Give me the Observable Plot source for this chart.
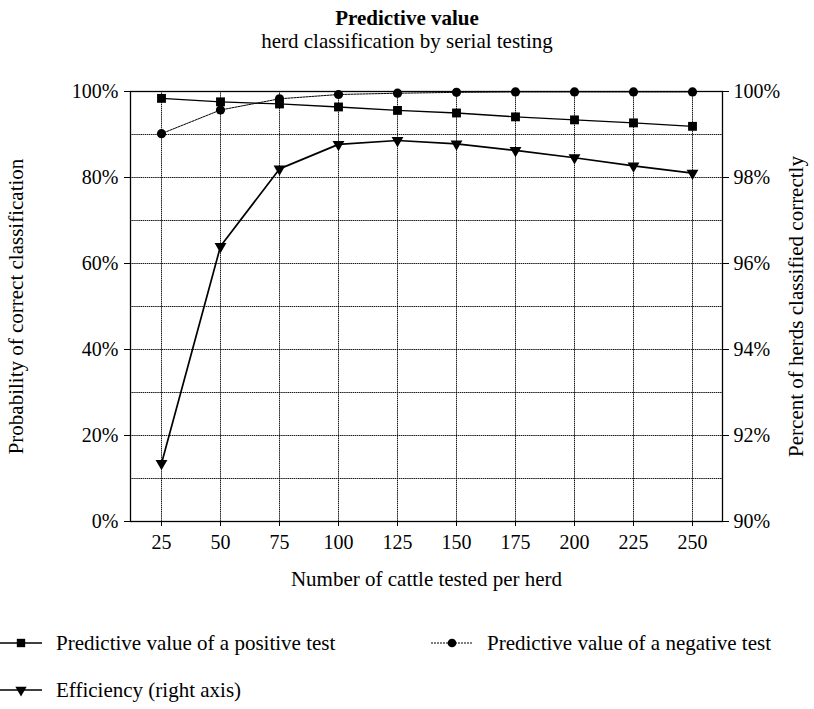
<!DOCTYPE html>
<html>
<head>
<meta charset="utf-8">
<script src="https://cdn.jsdelivr.net/npm/d3@7"></script>
<script src="https://cdn.jsdelivr.net/npm/@observablehq/plot@0.6"></script>
<style>
  html, body { margin: 0; padding: 0; background: #fff; }
  #wrap { position: relative; width: 814px; height: 709px; font-family: "Liberation Serif", "Times New Roman", serif; color: #000; overflow: hidden; }
  #title { position: absolute; left: 0; top: 6px; width: 814px; text-align: center; font-weight: bold; font-size: 21px; line-height: 24px; }
  #subtitle { position: absolute; left: 0; top: 29px; width: 814px; text-align: center; font-size: 21px; line-height: 24px; }
  #chart { position: absolute; left: 0; top: 60px; }
  .leg { position: absolute; font-size: 21px; line-height: 24px; white-space: nowrap; display: flex; align-items: center; }
  .leg svg { margin-right: 14px; }
</style>
</head>
<body>
<div id="wrap">
  <div id="title">Predictive value</div>
  <div id="subtitle">herd classification by serial testing</div>
  <div id="chart"></div>
  <div id="legend"></div>
</div>
<script>
// ---- data ----
const cattleTested = [25, 50, 75, 100, 125, 150, 175, 200, 225, 250];
const positivePV = [98.4, 97.6, 97.1, 96.4, 95.6, 95.0, 94.1, 93.4, 92.7, 91.9];
const negativePV = [90.2, 95.7, 98.3, 99.3, 99.6, 99.8, 99.9, 99.9, 99.9, 99.9];
const efficiency = [91.35, 96.4, 98.2, 98.77, 98.86, 98.78, 98.63, 98.46, 98.27, 98.1]; // right axis (%)
const leftTicks = [0, 20, 40, 60, 80, 100];
const rightTicks = [90, 92, 94, 96, 98, 100];
const gridTicks = [0, 10, 20, 30, 40, 50, 60, 70, 80, 90, 100];
const seriesNames = ["Predictive value of a positive test", "Predictive value of a negative test", "Efficiency (right axis)"];

// right axis 90–100% maps onto left 0–100%
const toLeft = r => (r - 90) * 10;
const fromLeft = l => 90 + l / 10;

const pos = cattleTested.map((x, i) => ({x, y: positivePV[i]}));
const neg = cattleTested.map((x, i) => ({x, y: negativePV[i]}));
const eff = cattleTested.map((x, i) => ({x, y: toLeft(efficiency[i])}));

const gridStyle = {stroke: "#000", strokeOpacity: 0.9, strokeDasharray: "1.5,0.6", strokeWidth: 1};

const chart = Plot.plot({
  width: 814,
  height: 540,
  marginTop: 31,
  marginBottom: 79,
  marginLeft: 130,
  marginRight: 92,
  style: {fontFamily: "'Liberation Serif', 'Times New Roman', serif", fontSize: "20px", color: "#000", background: "#fff"},
  x: {type: "point", domain: cattleTested, padding: 0.5},
  y: {domain: [0, 100]},
  marks: [
    Plot.gridY(gridTicks, gridStyle),
    Plot.gridX(cattleTested, gridStyle),
    Plot.frame({stroke: "#000", strokeWidth: 1.3}),
    Plot.axisY(leftTicks, {anchor: "left", tickFormat: d => d + "%", tickSize: 6, tickPadding: 6, fontSize: 20,
      label: "Probability of correct classification", labelAnchor: "center", labelArrow: "none", labelOffset: 122}),
    Plot.axisY(rightTicks.map(toLeft), {anchor: "right", tickFormat: d => Math.round(fromLeft(d)) + "%", tickSize: 6, tickPadding: 5, fontSize: 20,
      label: "Percent of herds classified correctly", labelAnchor: "center", labelArrow: "none", labelOffset: 80}),
    Plot.axisX(cattleTested, {anchor: "bottom", tickSize: 5, tickPadding: 8, fontSize: 20,
      label: "Number of cattle tested per herd", labelAnchor: "center", labelArrow: "none", labelOffset: 64}),
    Plot.line(neg, {x: "x", y: "y", stroke: "#000", strokeWidth: 1, strokeDasharray: "2,1"}),
    Plot.line(pos, {x: "x", y: "y", stroke: "#000", strokeWidth: 1.3}),
    Plot.line(eff, {x: "x", y: "y", stroke: "#000", strokeWidth: 1.7}),
    Plot.dot(neg, {x: "x", y: "y", symbol: "circle", r: 4.6, fill: "#000", stroke: "none"}),
    Plot.dot(pos, {x: "x", y: "y", symbol: "square", r: 5, fill: "#000", stroke: "none"}),
    Plot.dot(eff, {x: "x", y: "y", symbol: "triangle", r: 4.4, rotate: 180, fill: "#000", stroke: "none"})
  ]
});
document.getElementById("chart").appendChild(chart);
chart.querySelectorAll("text").forEach(t => { if (t.closest("g") && t.textContent.length > 12) t.style.fontSize = "21px"; });

// ---- legend ----
const legendItems = [
  {name: seriesNames[0], left: 0, top: 631, symbol: "square", dash: null},
  {name: seriesNames[1], left: 431, top: 631, symbol: "circle", dash: "2,1"},
  {name: seriesNames[2], left: 0, top: 678, symbol: "triangle", dash: null}
];
const legend = document.getElementById("legend");
for (const it of legendItems) {
  const div = document.createElement("div");
  div.className = "leg";
  div.style.left = it.left + "px";
  div.style.top = it.top + "px";
  const svg = d3.create("svg").attr("width", 42).attr("height", 20);
  svg.append("line").attr("x1", 0).attr("x2", 42).attr("y1", 10).attr("y2", 10)
    .attr("stroke", "#000").attr("stroke-width", it.dash ? 1 : 1.5).attr("stroke-dasharray", it.dash);
  let sym = it.symbol === "square" ? d3.symbolSquare : it.symbol === "circle" ? d3.symbolCircle : d3.symbolTriangle;
  const size = it.symbol === "square" ? 70 : it.symbol === "circle" ? 60 : 55;
  svg.append("path").attr("d", d3.symbol(sym, size)()).attr("fill", "#000")
    .attr("transform", `translate(21,10)${it.symbol === "triangle" ? " rotate(180)" : ""}`);
  div.appendChild(svg.node());
  const span = document.createElement("span");
  span.textContent = it.name;
  div.appendChild(span);
  legend.appendChild(div);
}
</script>
</body>
</html>
